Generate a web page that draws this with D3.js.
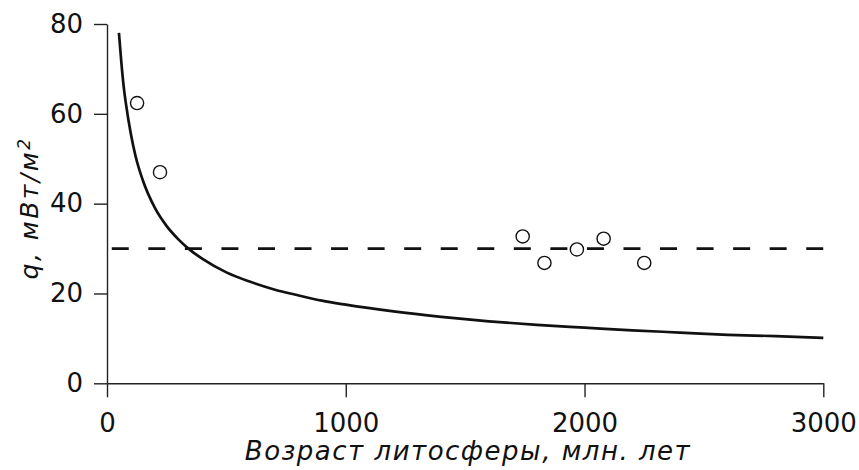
<!DOCTYPE html>
<html>
<head>
<meta charset="utf-8">
<script src="https://cdn.jsdelivr.net/npm/d3@7"></script>
<style>
  html, body { margin: 0; padding: 0; background: #ffffff; }
  svg { display: block; }
  text { font-family: "DejaVu Sans", "Liberation Sans", Arial, sans-serif; fill: #111; }
</style>
</head>
<body>
<svg id="chart" width="859" height="470"></svg>
<script>
// ---- data ----
const xTicks = [0, 1000, 2000, 3000];
const yTicks = [0, 20, 40, 60, 80];

// model curve (solid line): age (Myr) -> heat flow (mW/m2)
const curveAge = [50, 60, 70, 80, 100, 120, 150, 200, 250, 300, 350, 400, 500, 600, 700, 800, 900, 1000, 1200, 1400, 1600, 1800, 2000, 2200, 2400, 2600, 2800, 3000];
const curveQ   = [78.0, 71.5, 66.0, 62.0, 55.5, 50.5, 45.2, 39.1, 35.0, 32.0, 29.6, 27.7, 24.7, 22.6, 20.9, 19.6, 18.4, 17.5, 16.0, 14.8, 13.8, 13.0, 12.4, 11.8, 11.3, 10.8, 10.5, 10.1];

// observations (open circles)
const obsAge = [126, 222, 1741, 1832, 1968, 2080, 2250];
const obsQ   = [62.4, 47.0, 32.7, 26.8, 29.8, 32.2, 26.8];

// dashed reference level
const refLevel = 30;
const refAgeRange = [20, 3000];

const xTitle = "Возраст литосферы, млн. лет";

// ---- drawing ----
const svg = d3.select("#chart");
const x = d3.scaleLinear().domain([0, 3000]).range([107, 823.3]);
const y = d3.scaleLinear().domain([0, 80]).range([383.3, 24]);

// axes
const gx = svg.append("g")
  .attr("transform", `translate(0,${y(0)})`)
  .call(d3.axisBottom(x).tickValues(xTicks).tickFormat(d3.format("d"))
        .tickSize(14).tickSizeOuter(0).tickPadding(16));
const gy = svg.append("g")
  .attr("transform", `translate(${x(0)},0)`)
  .call(d3.axisLeft(y).tickValues(yTicks).tickFormat(d3.format("d"))
        .tickSize(13).tickSizeOuter(0).tickPadding(11));

[gx, gy].forEach(g => {
  g.selectAll("path.domain").attr("stroke", "#222").attr("stroke-width", 1.4);
  g.selectAll(".tick line").attr("stroke", "#222").attr("stroke-width", 1.4);
  g.selectAll(".tick text")
    .attr("fill", "#111")
    .style("font-family", "'DejaVu Sans', 'Liberation Sans', Arial, sans-serif")
    .style("font-size", "26px");
});

// dashed line
svg.append("line")
  .attr("x1", x(refAgeRange[0])).attr("x2", x(refAgeRange[1]))
  .attr("y1", y(refLevel)).attr("y2", y(refLevel))
  .attr("stroke", "#111").attr("stroke-width", 2.8)
  .attr("stroke-dasharray", "17 19.55");

// solid curve
const curvePts = curveAge.map((a, i) => [a, curveQ[i]]);
svg.append("path")
  .datum(curvePts)
  .attr("fill", "none")
  .attr("stroke", "#111")
  .attr("stroke-width", 2.7)
  .attr("d", d3.line().x(d => x(d[0])).y(d => y(d[1])).curve(d3.curveMonotoneX));

// observation circles
svg.append("g").selectAll("circle")
  .data(obsAge.map((a, i) => [a, obsQ[i]]))
  .join("circle")
  .attr("cx", d => x(d[0]))
  .attr("cy", d => y(d[1]))
  .attr("r", 6.6)
  .attr("fill", "#fff")
  .attr("stroke", "#111")
  .attr("stroke-width", 1.4);

// x title
svg.append("text")
  .attr("x", 468).attr("y", 460)
  .attr("text-anchor", "middle")
  .style("font-size", "26px")
  .style("font-style", "italic")
  .style("letter-spacing", "1.5px")
  .text(xTitle);

// y title
const yt = svg.append("text")
  .attr("transform", `translate(38,208) rotate(-90)`)
  .attr("text-anchor", "middle")
  .style("font-size", "25px")
  .style("font-style", "italic")
  .style("letter-spacing", "2.5px");
yt.append("tspan").text("q, мВт/м");
yt.append("tspan").attr("dy", "-0.45em").style("font-size", "17px").text("2");
</script>
</body>
</html>
